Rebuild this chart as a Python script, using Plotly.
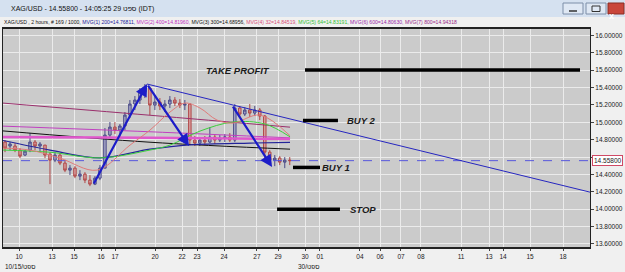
import plotly.graph_objects as go

W, H = 625, 272

# ---------------- data ----------------
# x unit: chart session position (one unit ~ one trading day on this broken time axis)
x_tick_pos = [1.19, 3.63, 5.26, 7.26, 8.30, 11.26, 13.26, 14.37, 16.37, 18.81, 20.37,
              22.37, 23.48, 26.44, 27.93, 29.48, 30.96, 33.93, 36.0, 37.04, 39.04, 41.48]
x_tick_text = ["10", "13", "15", "16", "17", "20", "22", "23", "24", "27", "29",
               "30", "01", "04", "06", "07", "08", "11", "13", "14", "15", "18"]
y_tick_vals = [13.6, 13.8, 14.0, 14.2, 14.4, 14.6, 14.8, 15.0, 15.2, 15.4, 15.6, 15.8, 16.0]
y_tick_text = ["13.60000", "13.80000", "14.00000", "14.20000", "14.40000", "",
               "14.80000", "15.00000", "15.20000", "15.40000", "15.60000", "15.80000", "16.00000"]

bar_start, bar_step = 0.15, 0.37
bar_open = [14.772, 14.726, 14.726, 14.679, 14.622, 14.679, 14.772, 14.726, 14.737, 14.633,
            14.564, 14.622, 14.530, 14.449, 14.472, 14.380, 14.403, 14.334, 14.288, 14.357,
            14.472, 14.852, 14.944, 14.910, 14.956, 15.082, 15.209, 15.255, 15.347, 15.393,
            15.197, 15.232, 15.186, 15.209, 15.255, 15.220, 15.197, 15.209, 14.795, 14.760,
            14.795, 14.772, 14.829, 14.795, 14.818, 14.829, 14.795, 15.163, 15.094, 15.140,
            15.105, 15.140, 15.071, 14.656, 14.564, 14.587, 14.541, 14.564]
bar_high = [14.795, 14.772, 14.760, 14.702, 14.679, 14.875, 14.795, 14.772, 14.737, 14.656,
            14.656, 14.645, 14.564, 14.507, 14.495, 14.449, 14.426, 14.392, 14.380, 14.507,
            14.933, 15.002, 15.002, 14.979, 15.117, 15.255, 15.301, 15.393, 15.439, 15.393,
            15.312, 15.278, 15.255, 15.301, 15.289, 15.266, 15.255, 15.220, 14.841, 14.829,
            14.841, 14.944, 14.864, 14.852, 14.864, 14.875, 15.209, 15.186, 15.174, 15.209,
            15.186, 15.163, 15.082, 14.679, 14.622, 14.610, 14.599, 14.599]
bar_low = [14.656, 14.679, 14.656, 14.587, 14.610, 14.656, 14.679, 14.668, 14.587, 14.288,
           14.541, 14.507, 14.426, 14.392, 14.357, 14.334, 14.300, 14.265, 14.277, 14.334,
           14.472, 14.818, 14.864, 14.829, 14.910, 15.048, 15.140, 15.209, 15.278, 15.082,
           15.140, 15.140, 15.117, 15.163, 15.186, 15.163, 15.140, 14.737, 14.726, 14.726,
           14.737, 14.760, 14.749, 14.772, 14.772, 14.772, 14.772, 15.048, 15.071, 15.059,
           15.071, 15.025, 14.587, 14.507, 14.495, 14.507, 14.472, 14.507]
bar_close = [14.702, 14.749, 14.679, 14.610, 14.668, 14.772, 14.726, 14.749, 14.622, 14.564,
             14.622, 14.530, 14.449, 14.472, 14.380, 14.403, 14.334, 14.288, 14.357, 14.472,
             14.852, 14.944, 14.910, 14.956, 15.082, 15.209, 15.255, 15.347, 15.393, 15.197,
             15.232, 15.186, 15.209, 15.255, 15.220, 15.197, 15.209, 14.795, 14.760, 14.795,
             14.772, 14.829, 14.795, 14.818, 14.829, 14.795, 15.163, 15.094, 15.140, 15.105,
             15.140, 15.071, 14.656, 14.564, 14.587, 14.541, 14.564, 14.558]

ma7_x = [0, 10.89, 21.26]
ma7_y = [15.22, 15.08, 14.943]
ma2_x = [0, 10.89, 21.26]
ma2_y = [14.955, 14.89, 14.82]
ma3_x = [0, 10.89, 21.26]
ma3_y = [14.90, 14.77, 14.69]
ma6_x = [0, 10.89, 21.26]
ma6_y = [14.83, 14.82, 14.806]
ma1_x = [0, 3.48, 7.19, 10.89, 13.85, 18.30, 21.26]
ma1_y = [14.79, 14.68, 14.59, 14.69, 14.74, 14.76, 14.768]
ma5_x = [0, 3.48, 7.19, 10.89, 12.37, 14.59, 17.04, 19.41, 21.26]
ma5_y = [14.68, 14.655, 14.59, 14.68, 14.737, 14.898, 15.002, 14.979, 14.832]
ma4_x = [0, 2.0, 4.22, 6.96, 9.41, 10.89, 12.37, 13.48, 14.59, 15.85, 17.04, 19.04, 21.26]
ma4_y = [14.702, 14.679, 14.587, 14.449, 14.737, 14.910, 15.117, 15.220, 15.163, 15.025,
         14.99, 15.082, 14.845]

trend_x = [10.67, 43.48]
trend_y = [15.439, 14.196]

# arrows: tail -> head
arrow_tail_x = [6.67, 10.67, 16.96]
arrow_tail_y = [14.277, 15.439, 15.197]
arrow_head_x = [10.67, 13.78, 19.93]
arrow_head_y = [15.439, 14.726, 14.484]

level_names = ["TAKE PROFIT", "BUY 2", "BUY 1", "STOP"]
level_price = [15.60, 15.02, 14.48, 14.00]
level_x0 = [22.37, 22.22, 21.48, 20.30]
level_x1 = [42.74, 24.81, 23.48, 24.96]
level_label_x = [17.44, 26.52, 24.63, 26.70]

last_price = 14.558
x_max = 43.48

# ---------------- figure ----------------
fig = go.Figure()

def line(xs, ys, color, width=1, dash=None, shape="linear"):
    fig.add_trace(go.Scatter(x=xs, y=ys, mode="lines", hoverinfo="skip", showlegend=False,
                             line=dict(color=color, width=width, dash=dash, shape=shape)))

line([0, x_max], [last_price, last_price], "#5858dc", 1, "dash")
line(ma7_x, ma7_y, "#9a2f6c", 1, shape="spline")
line(ma2_x, ma2_y, "#c040c0", 1, shape="spline")
line(ma3_x, ma3_y, "#111111", 1, shape="spline")
line(ma6_x, ma6_y, "#e058cc", 2.5, shape="spline")
line(ma1_x, ma1_y, "#23239a", 1.2, shape="spline")
line(ma5_x, ma5_y, "#3ccf3c", 1, shape="spline")
line(ma4_x, ma4_y, "#e07a7a", 1, shape="spline")

bar_x = [bar_start + i * bar_step for i in range(len(bar_close))]
fig.add_trace(go.Candlestick(
    x=bar_x, open=bar_open, high=bar_high, low=bar_low, close=bar_close,
    increasing=dict(line=dict(color="#4a4a88", width=1), fillcolor="#a8a8c8"),
    decreasing=dict(line=dict(color="#b04646", width=1), fillcolor="#d8a0a0"),
    whiskerwidth=0, hoverinfo="skip", showlegend=False))

line(trend_x, trend_y, "#2626c0", 1)

for i in range(len(level_names)):
    line([level_x0[i], level_x1[i]], [level_price[i], level_price[i]], "#000000", 3.5)

annotations = []
for i in range(len(arrow_head_x)):
    annotations.append(dict(x=arrow_head_x[i], y=arrow_head_y[i], ax=arrow_tail_x[i], ay=arrow_tail_y[i],
                            xref="x", yref="y", axref="x", ayref="y", showarrow=True, text="",
                            arrowhead=2, arrowsize=1.1, arrowwidth=2.2, arrowcolor="#1c1cc8",
                            standoff=0, startstandoff=0))
for i in range(len(level_names)):
    annotations.append(dict(x=level_label_x[i], y=level_price[i], xref="x", yref="y",
                            text=level_names[i], showarrow=False, xanchor="center", yanchor="middle",
                            font=dict(family="Liberation Sans, Arial", size=9.5, color="#1a1a1a",
                                      weight="bold", style="italic")))

# current price box on axis
annotations.append(dict(x=592 / W, y=last_price, xref="paper", yref="y", text="14.55800",
                        showarrow=False, xanchor="left", yanchor="middle",
                        font=dict(family="Liberation Sans, Arial", size=6.5, color="#222"),
                        bgcolor="#ffffff", bordercolor="#d04a66", borderwidth=1, borderpad=1))

# window chrome
shapes = [
    dict(type="rect", xref="paper", yref="paper", x0=0, x1=1, y0=1 - 17 / H, y1=1,
         fillcolor="#d5e1f0", line=dict(width=0), layer="below"),
    dict(type="rect", xref="paper", yref="paper", x0=563 / W, x1=583 / W, y0=1 - 14 / H, y1=1 - 3 / H,
         fillcolor="#dfe8f4", line=dict(color="#7d8ea8", width=1)),
    dict(type="rect", xref="paper", yref="paper", x0=586 / W, x1=606 / W, y0=1 - 14 / H, y1=1 - 3 / H,
         fillcolor="#dfe8f4", line=dict(color="#7d8ea8", width=1)),
    dict(type="rect", xref="paper", yref="paper", x0=608 / W, x1=624 / W, y0=1 - 14 / H, y1=1 - 3 / H,
         fillcolor="#c9463b", line=dict(color="#8a2c24", width=1)),
    dict(type="line", xref="paper", yref="paper", x0=569 / W, x1=577 / W, y0=1 - 11 / H, y1=1 - 11 / H,
         line=dict(color="#333", width=1.5)),
    dict(type="rect", xref="paper", yref="paper", x0=592 / W, x1=600 / W, y0=1 - 11.5 / H, y1=1 - 6 / H,
         line=dict(color="#333", width=1)),
]
annotations.append(dict(x=616 / W, y=1 - 8.5 / H, xref="paper", yref="paper", text="x", showarrow=False,
                        font=dict(family="Liberation Sans", size=9, color="white", weight="bold")))

annotations.append(dict(x=9 / W, y=1 - 9 / H, xref="paper", yref="paper",
                        text="XAG/USD - 14.55800 - 14:05:25 29 ספט (IDT)", showarrow=False,
                        xanchor="left", yanchor="middle",
                        font=dict(family="Liberation Sans, DejaVu Sans", size=7, color="#111")))

sub = ("<span style='color:#111'>XAG/USD , 2 hours, # 169 / 1000, </span>"
       "<span style='color:#22229a'>MVG(1) 200=14.76811, </span>"
       "<span style='color:#c030c0'>MVG(2) 400=14.81960, </span>"
       "<span style='color:#111'>MVG(3) 300=14.68956, </span>"
       "<span style='color:#d8507a'>MVG(4) 32=14.84519, </span>"
       "<span style='color:#33c033'>MVG(5) 64=14.83191, </span>"
       "<span style='color:#9a2aa8'>MVG(6) 600=14.80630, </span>"
       "<span style='color:#9a2a8a'>MVG(7) 800=14.94318</span>")
annotations.append(dict(x=2 / W, y=1 - 22 / H, xref="paper", yref="paper", text=sub, showarrow=False,
                        xanchor="left", yanchor="middle",
                        font=dict(family="Liberation Sans", size=5.1, color="#111")))

annotations.append(dict(x=3 / W, y=1 - 266 / H, xref="paper", yref="paper", text="10/15/ספט",
                        showarrow=False, xanchor="left", yanchor="middle",
                        font=dict(family="Liberation Sans, DejaVu Sans", size=6.5, color="#222")))
annotations.append(dict(x=296 / W, y=1 - 266 / H, xref="paper", yref="paper", text="30/ספט",
                        showarrow=False, xanchor="left", yanchor="middle",
                        font=dict(family="Liberation Sans, DejaVu Sans", size=6.5, color="#222")))

fig.update_layout(
    width=W, height=H, margin=dict(l=0, r=0, t=0, b=0),
    paper_bgcolor="#f0f0f0", plot_bgcolor="#cbcbcb",
    showlegend=False, annotations=annotations, shapes=shapes,
    xaxis=dict(domain=[3 / W, 590 / W], range=[0, x_max], tickmode="array",
               tickvals=x_tick_pos, ticktext=x_tick_text, showgrid=True, gridcolor="#ebebeb",
               gridwidth=1, zeroline=False, showline=True, linecolor="#222", linewidth=1.5,
               mirror=True, ticks="outside", ticklen=2, tickcolor="#444",
               tickfont=dict(family="Liberation Sans", size=6.5, color="#222"),
               rangeslider=dict(visible=False), automargin=False, fixedrange=True),
    yaxis=dict(domain=[1 - 247 / H, 1 - 29 / H], range=[13.565, 16.072], side="right",
               tickmode="array", tickvals=y_tick_vals, ticktext=y_tick_text,
               showgrid=True, gridcolor="#ebebeb", gridwidth=1, zeroline=False,
               showline=True, linecolor="#222", linewidth=1, mirror=True,
               ticks="outside", ticklen=3, tickcolor="#444",
               tickfont=dict(family="Liberation Sans", size=6.5, color="#222"),
               automargin=False, fixedrange=True),
)

fig.write_html("out.html")
